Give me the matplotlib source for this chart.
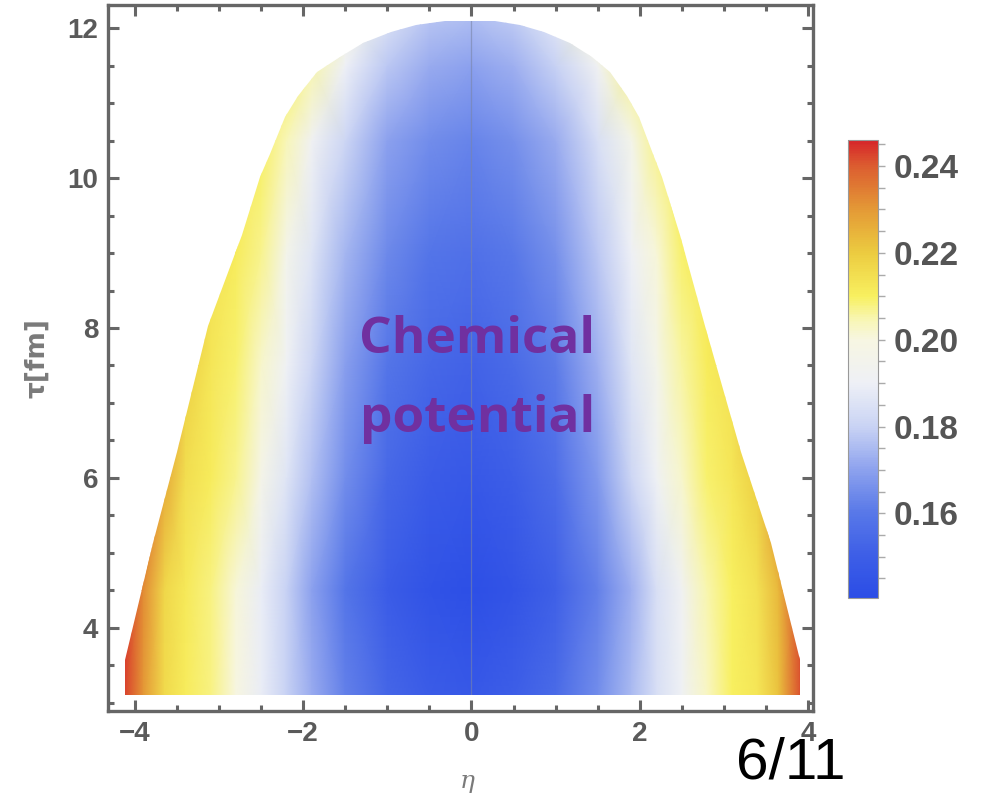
import numpy as np
import matplotlib
matplotlib.use("Agg")
import matplotlib.pyplot as plt
from matplotlib.colors import LinearSegmentedColormap, Normalize
from matplotlib.patches import Polygon
from matplotlib.ticker import MultipleLocator

# ---------------- data ----------------
eta_cols = [-4.4, -4.15, -3.9, -3.65, -3.4, -3.1, -2.8, -2.5, -2.2, -1.9, -1.5, -1.0, -0.5,
            0.0, 0.5, 1.0, 1.5, 1.9, 2.2, 2.5, 2.8, 3.1, 3.4, 3.65, 3.9, 4.15]
tau_rows = [3.1, 4.5, 6.0, 7.5, 9.0, 10.5, 11.5, 12.2]
mu_3p1 = [0.246, 0.244, 0.230, 0.216, 0.211, 0.208, 0.200, 0.189, 0.180, 0.172, 0.162, 0.153, 0.149,
          0.147, 0.150, 0.155, 0.165, 0.175, 0.184, 0.191, 0.203, 0.210, 0.213, 0.222, 0.241, 0.246]
mu_4p5 = [0.246, 0.245, 0.232, 0.217, 0.212, 0.208, 0.201, 0.189, 0.180, 0.170, 0.159, 0.149, 0.144,
          0.142, 0.145, 0.151, 0.162, 0.173, 0.184, 0.192, 0.205, 0.210, 0.214, 0.224, 0.241, 0.246]
mu_6p0 = [0.246, 0.246, 0.241, 0.227, 0.215, 0.211, 0.207, 0.197, 0.186, 0.176, 0.165, 0.154, 0.149,
          0.147, 0.150, 0.156, 0.168, 0.181, 0.191, 0.202, 0.209, 0.213, 0.219, 0.234, 0.246, 0.246]
mu_7p5 = [0.246, 0.246, 0.246, 0.234, 0.219, 0.213, 0.209, 0.202, 0.191, 0.181, 0.169, 0.159, 0.154,
          0.152, 0.155, 0.161, 0.173, 0.186, 0.196, 0.206, 0.211, 0.214, 0.227, 0.241, 0.246, 0.246]
mu_9p0 = [0.246, 0.246, 0.246, 0.241, 0.227, 0.214, 0.211, 0.207, 0.196, 0.186, 0.174, 0.164, 0.159,
          0.157, 0.160, 0.166, 0.178, 0.190, 0.201, 0.209, 0.212, 0.217, 0.234, 0.246, 0.246, 0.246]
mu_10p5 = [0.246, 0.246, 0.246, 0.246, 0.239, 0.221, 0.213, 0.210, 0.204, 0.192, 0.181, 0.170, 0.165,
           0.163, 0.166, 0.172, 0.184, 0.196, 0.207, 0.211, 0.214, 0.228, 0.245, 0.246, 0.246, 0.246]
mu_11p5 = [0.246, 0.246, 0.246, 0.246, 0.246, 0.241, 0.224, 0.213, 0.210, 0.205, 0.190, 0.178, 0.172,
           0.170, 0.173, 0.180, 0.192, 0.207, 0.211, 0.215, 0.231, 0.246, 0.246, 0.246, 0.246, 0.246]
mu_12p2 = [0.246, 0.246, 0.246, 0.246, 0.246, 0.246, 0.245, 0.230, 0.214, 0.210, 0.201, 0.186, 0.178,
           0.176, 0.179, 0.188, 0.205, 0.212, 0.219, 0.237, 0.246, 0.246, 0.246, 0.246, 0.246, 0.246]

# boundary of the freeze-out region
tau_edge = [3.1, 3.57, 5.13, 6.34, 8.03, 9.24, 10.02, 10.32, 10.81, 11.10, 11.41, 11.62, 11.80,
            11.95, 12.04, 12.09, 12.10]
eta_left = [-4.12, -4.12, -3.78, -3.50, -3.13, -2.73, -2.51, -2.40, -2.22, -2.06, -1.83, -1.56,
            -1.29, -0.96, -0.66, -0.32, -0.06]
eta_right = [3.90, 3.90, 3.56, 3.21, 2.78, 2.48, 2.26, 2.16, 1.99, 1.85, 1.65, 1.43, 1.17, 0.86,
             0.58, 0.28, 0.08]

cbar_ticks = [0.16, 0.18, 0.20, 0.22, 0.24]
mu_min, mu_max = 0.1405, 0.246
x_ticks = [-4, -2, 0, 2, 4]
y_ticks = [4, 6, 8, 10, 12]

# ---------------- colormap (Temperature-like) ----------------
nodes = [(0.0, "#2b4de6"), (0.09, "#3d5ee7"), (0.185, "#5878e8"), (0.28, "#8da2ee"),
         (0.374, "#c9d3f4"), (0.469, "#eef0f6"), (0.564, "#f7f6e2"), (0.611, "#f8f6b0"),
         (0.659, "#f8f060"), (0.754, "#eccc40"), (0.848, "#e49a36"), (0.943, "#dc5e30"),
         (1.0, "#d6262a")]
cmap = LinearSegmentedColormap.from_list("temp", nodes)
norm = Normalize(mu_min, mu_max)

W, H = 989, 801
fig = plt.figure(figsize=(W / 100, H / 100), dpi=100)
ax = fig.add_axes([108 / W, 1 - 711 / H, (813 - 108) / W, (711 - 5) / H])

C = np.array([mu_3p1, mu_4p5, mu_6p0, mu_7p5, mu_9p0, mu_10p5, mu_11p5, mu_12p2])
mesh = ax.pcolormesh(eta_cols, tau_rows, C, shading="gouraud", cmap=cmap, norm=norm)

poly_pts = list(zip(eta_left, tau_edge)) + list(zip(eta_right[::-1], tau_edge[::-1]))
poly = Polygon(poly_pts, closed=True, facecolor="none", edgecolor="none")
ax.add_patch(poly)
mesh.set_clip_path(poly)

vl = ax.axvline(0, color="#7a85a8", lw=0.9, alpha=0.6)
vl.set_clip_path(poly)

ax.set_xlim(-4.32, 4.06)
ax.set_ylim(2.89, 12.31)

gray = "#666666"
for s in ax.spines.values():
    s.set_color(gray)
    s.set_linewidth(2.4)
ax.set_xticks(x_ticks)
ax.set_yticks(y_ticks)
ax.xaxis.set_minor_locator(MultipleLocator(0.5))
ax.yaxis.set_minor_locator(MultipleLocator(0.5))
ax.tick_params(which="both", direction="in", top=True, right=True, color=gray, width=2.2)
ax.tick_params(which="major", length=8, labelsize=20, labelcolor="#5a5a5a", pad=7)
ax.tick_params(which="minor", length=4)
ax.set_xticklabels(["\u22124", "\u22122", "0", "2", "4"], fontweight="bold", family="Liberation Sans")
ax.set_yticklabels([str(t) for t in y_ticks], fontweight="bold", family="Liberation Sans")

ax.set_ylabel("\u03c4[fm]", fontsize=19, color="#7a7a7a", family="DejaVu Sans", fontweight="bold")
ax.yaxis.set_label_coords(-0.082, 0.5)
ax.set_xlabel("\u03b7", fontsize=18, color="#7a7a7a", family="DejaVu Serif", style="italic")
ax.xaxis.set_label_coords(0.51, -0.083)

ax.text(0.07, 7.84, "Chemical", ha="center", va="center", fontsize=37, fontweight="bold",
        color="#7030a0", family="Open Sans")
ax.text(0.07, 6.78, "potential", ha="center", va="center", fontsize=37, fontweight="bold",
        color="#7030a0", family="Open Sans")

# colorbar
cax = fig.add_axes([848 / W, 1 - 598 / H, 30 / W, 458 / H])
cb = fig.colorbar(matplotlib.cm.ScalarMappable(norm=norm, cmap=cmap), cax=cax)
cb.set_ticks(cbar_ticks)
cb.set_ticklabels(["%.2f" % t for t in cbar_ticks])
cb.outline.set_edgecolor("#999999")
cb.outline.set_linewidth(0.8)
cax.yaxis.set_minor_locator(MultipleLocator(0.005))
cax.tick_params(which="both", color="#aaaaaa", width=1.0, length=5)
cax.tick_params(which="major", labelsize=24, labelcolor="#555555", pad=6)
for lab in cax.get_yticklabels():
    lab.set_fontweight("bold")
    lab.set_family("Liberation Sans")

fig.text(0.80, 0.047, "6/11", ha="center", va="center", fontsize=42, color="black",
         family=["Liberation Sans Narrow", "Liberation Sans"])

fig.savefig("out.png", dpi=100)
